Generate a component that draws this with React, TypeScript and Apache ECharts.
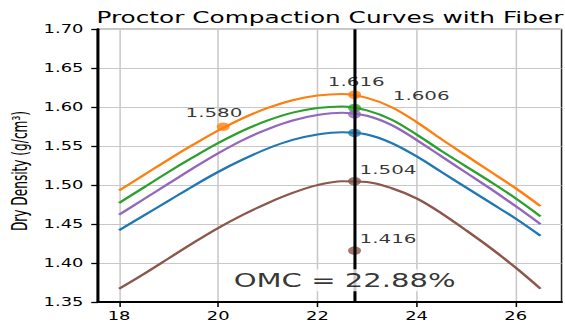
import React, { useEffect, useRef } from "react";
import * as echarts from "echarts";

// ---- data ----
const moisture = [18, 18.5, 19, 19.5, 20, 20.5, 21, 21.5, 22, 22.5, 23, 23.5, 24, 24.5, 25, 25.5, 26, 26.5];
const curveOrange = [1.493, 1.513, 1.533, 1.552, 1.570, 1.586, 1.599, 1.609, 1.615, 1.617, 1.612, 1.600, 1.581, 1.559, 1.538, 1.517, 1.496, 1.473];
const curveGreen = [1.477, 1.497, 1.517, 1.536, 1.554, 1.570, 1.583, 1.593, 1.599, 1.601, 1.596, 1.584, 1.565, 1.544, 1.524, 1.504, 1.483, 1.460];
const curvePurple = [1.462, 1.482, 1.502, 1.522, 1.541, 1.558, 1.572, 1.583, 1.590, 1.593, 1.589, 1.577, 1.558, 1.537, 1.516, 1.495, 1.473, 1.450];
const curveBlue = [1.442, 1.461, 1.480, 1.499, 1.517, 1.533, 1.547, 1.558, 1.565, 1.568, 1.565, 1.554, 1.537, 1.517, 1.497, 1.477, 1.457, 1.435];
const curveBrown = [1.367, 1.386, 1.406, 1.426, 1.445, 1.462, 1.477, 1.490, 1.500, 1.505, 1.504, 1.496, 1.483, 1.464, 1.442, 1.419, 1.394, 1.367];

const omcX = 22.75;
const markerX = [22.75, 22.75, 22.75, 22.75, 22.75, 22.75, 20.1];
const markerY = [1.616, 1.599, 1.591, 1.567, 1.505, 1.416, 1.575];
const markerColorIdx = [0, 1, 2, 3, 4, 4, 0];

const annText = ["1.616", "1.606", "1.580", "1.504", "1.416"];
const annX = [22.21, 23.52, 19.34, 22.85, 22.85];
const annY = [1.6326, 1.6146, 1.5929, 1.5208, 1.4316];

const omcText = "OMC = 22.88%";
const omcTextPos = [20.25, 1.378];

const xTicks = [18, 20, 22, 24, 26];
const colors = ["#ff7f0e", "#2ca02c", "#9467bd", "#1f77b4", "#8c564b"];
const curves = [curveOrange, curveGreen, curvePurple, curveBlue, curveBrown];

const titleText = "Proctor Compaction Curves with Fiber";
const yName = "Dry Density (g/cm³)";

// horizontal stretch of the reference picture
const SX = 1.53;
const W = 565 / SX;
const H = 322;

export default function App() {
  const ref = useRef<HTMLDivElement>(null);
  useEffect(() => {
    if (!ref.current) return;
    const chart = echarts.init(ref.current, null, { renderer: "svg" });
    const font = "DejaVu Sans";
    const lineSeries = curves.map((c, i) => ({
      type: "line",
      data: moisture.map((x, j) => [x, c[j]]),
      smooth: 0.35,
      showSymbol: false,
      lineStyle: { color: colors[i], width: 2 },
      itemStyle: { color: colors[i] },
      z: 2,
      silent: true,
    }));
    chart.setOption({
      animation: false,
      backgroundColor: "#ffffff",
      title: {
        text: titleText,
        left: 63,
        top: 9.5,
        padding: 0,
        textStyle: { fontSize: 16.2, fontWeight: "normal", color: "#000", fontFamily: font },
      },
      grid: {
        left: 64.05,
        right: W - 367.3,
        top: 29.3,
        bottom: 19.3,
        show: true,
        borderColor: "#222",
        borderWidth: 1,
        backgroundColor: "transparent",
      },
      xAxis: {
        type: "value",
        min: 17.575,
        max: 26.925,
        axisLine: { show: true, onZero: false, lineStyle: { color: "#000", width: 2 } },
        axisTick: { show: true, length: 5, customValues: xTicks, lineStyle: { color: "#000", width: 1 } },
        axisLabel: {
          customValues: xTicks,
          margin: 8,
          fontSize: 11.7,
          color: "#000",
          fontFamily: font,
        },
        splitLine: { show: true, lineStyle: { color: "#c8c8c8", width: 1 } },
      },
      yAxis: {
        type: "value",
        min: 1.35,
        max: 1.7,
        interval: 0.05,
        axisLine: { show: true, lineStyle: { color: "#000", width: 2 } },
        axisTick: { show: true, length: 4.4, lineStyle: { color: "#000", width: 1.3 } },
        axisLabel: {
          margin: 9.5,
          fontSize: 11.7,
          color: "#000",
          fontFamily: font,
          formatter: (v: number) => v.toFixed(2),
        },
        splitLine: { show: true, lineStyle: { color: "#c8c8c8", width: 1 } },
      },
      graphic: [
        {
          type: "text",
          x: 13,
          y: 171,
          rotation: Math.PI / 2,
          style: {
            text: yName,
            fontSize: 13.5,
            fontFamily: "DejaVu Sans Condensed, Liberation Sans Narrow, sans-serif",
            fill: "#000",
            align: "center",
            verticalAlign: "middle",
          },
        },
      ],
      series: [
        ...lineSeries,
        {
          type: "line",
          data: [],
          z: 3,
          silent: true,
          markLine: {
            silent: true,
            symbol: "none",
            label: { show: false },
            lineStyle: { color: "#000", width: 2, type: "solid" },
            data: [{ xAxis: omcX }],
          },
        },
        {
          type: "scatter",
          z: 4,
          silent: true,
          symbol: "circle",
          symbolSize: 8.5,
          data: markerX.map((x, i) => ({
            value: [x, markerY[i]],
            itemStyle: { color: colors[markerColorIdx[i]] },
          })),
        },
        {
          type: "scatter",
          z: 6,
          silent: true,
          symbolSize: 0,
          data: [
            ...annText.map((t, i) => ({
              value: [annX[i], annY[i]],
              name: t,
              label: {
                show: true,
                formatter: t,
                position: "right",
                distance: 0,
                fontSize: 13,
                color: "#000",
                fontFamily: font,
              },
            })),
            {
              value: omcTextPos,
              name: omcText,
              label: {
                show: true,
                formatter: omcText,
                position: "right",
                distance: 0,
                fontSize: 19,
                color: "#000",
                fontFamily: font,
                backgroundColor: "#ffffff",
                padding: [2, 2, 1, 2],
              },
            },
          ],
        },
      ],
    });
    return () => chart.dispose();
  }, []);
  return (
    <div
      ref={ref}
      style={{
        position: "fixed",
        left: 0,
        top: 0,
        width: W,
        height: H,
        transform: `scaleX(${SX})`,
        transformOrigin: "0 0",
      }}
    />
  );
}
